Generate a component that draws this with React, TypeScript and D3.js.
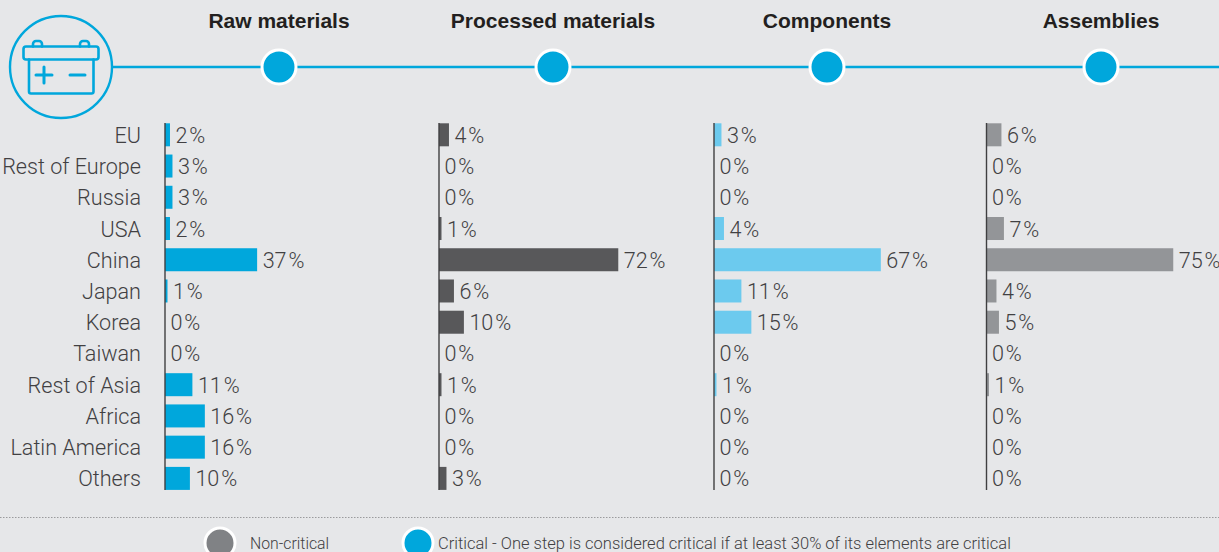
import React from "react";
import * as d3 from "d3";

const regions = ["EU", "Rest of Europe", "Russia", "USA", "China", "Japan", "Korea", "Taiwan", "Rest of Asia", "Africa", "Latin America", "Others"];
const stepNames = ["Raw materials", "Processed materials", "Components", "Assemblies"];
const rawMaterials = [2, 3, 3, 2, 37, 1, 0, 0, 11, 16, 16, 10];
const processedMaterials = [4, 0, 0, 1, 72, 6, 10, 0, 1, 0, 0, 3];
const components = [3, 0, 0, 4, 67, 11, 15, 0, 1, 0, 0, 0];
const assemblies = [6, 0, 0, 7, 75, 4, 5, 0, 1, 0, 0, 0];
const stepValues = [rawMaterials, processedMaterials, components, assemblies];
const barColors = ["#00a7dc", "#58585a", "#6ccaee", "#939598"];
const axisOrigins = [165, 439, 714, 986.5];
const nodeCentres = [279, 553, 827, 1101];

const BG = "#e6e7e9";
const BLUE = "#00a7dc";
const TEXT = "#414042";
const FONT = "Roboto, 'Liberation Sans', Arial, sans-serif";
const BOLD_FONT = "'Liberation Sans', Arial, sans-serif";

const WIDTH = 1219;
const HEIGHT = 552;

const yScale = d3.scalePoint<string>().domain(regions).range([134.8, 478.4]);
const xLength = d3.scaleLinear().domain([0, 100]).range([0, 249]);

function BatteryIcon() {
  return (
    <g fill="none" stroke={BLUE} strokeWidth={2.6} strokeLinejoin="round" strokeLinecap="round">
      <circle cx={61} cy={67} r={51} strokeWidth={2.4} />
      <rect x={23.5} y={46.5} width={75} height={13} rx={2.5} />
      <path d="M29 59.5V91.5a2 2 0 0 0 2 2H91.5a2 2 0 0 0 2-2V59.5" />
      <path d="M33 46.5V44a3 3 0 0 1 3-3h3a3 3 0 0 1 3 3V46.5" />
      <path d="M80 46.5V44a3 3 0 0 1 3-3h3a3 3 0 0 1 3 3V46.5" />
      <path d="M36 75H52M44 67V83M70 75H85" strokeWidth={3} />
    </g>
  );
}

function StepColumn({ index }: { index: number }) {
  const x0 = axisOrigins[index];
  const values = stepValues[index];
  return (
    <g>
      {values.map((v, i) => {
        const y = yScale(regions[i]) as number;
        const w = xLength(v);
        return (
          <g key={regions[i]}>
            {v > 0 && <rect x={x0} y={y - 11.5} width={w} height={23} fill={barColors[index]} />}
            <text x={x0 + w + 5.5} y={y + 8} fontSize={21.6} fill={TEXT} fontFamily={FONT} fontWeight={300}>
              {v}
              <tspan dx={1.8}>%</tspan>
            </text>
          </g>
        );
      })}
      <line x1={x0} x2={x0} y1={123} y2={490} stroke="#3f3f41" strokeWidth={1.4} />
    </g>
  );
}

export default function App() {
  return (
    <svg width={WIDTH} height={HEIGHT} style={{ position: "absolute", left: 0, top: 0, background: BG }}>
      <BatteryIcon />
      <line x1={113} x2={WIDTH} y1={67} y2={67} stroke={BLUE} strokeWidth={2.4} />
      {nodeCentres.map((cx, i) => (
        <g key={stepNames[i]}>
          <circle cx={cx} cy={67} r={17} fill={BLUE} stroke="#ffffff" strokeWidth={3} />
          <text x={cx} y={28} textAnchor="middle" fontSize={21} fontWeight={700} fill="#231f20" fontFamily={BOLD_FONT}>
            {stepNames[i]}
          </text>
        </g>
      ))}

      {regions.map((r) => (
        <text key={r} x={141} y={(yScale(r) as number) + 8} textAnchor="end" fontSize={21.6} fontWeight={300} fill={TEXT} fontFamily={FONT}>
          {r}
        </text>
      ))}
      {stepNames.map((_, i) => (
        <StepColumn key={i} index={i} />
      ))}

      <line x1={0} x2={WIDTH} y1={517.5} y2={517.5} stroke="#9b9b9d" strokeWidth={1} strokeDasharray="1.5 1.5" />
      <circle cx={220} cy={543} r={15} fill="#808285" stroke="#ffffff" strokeWidth={3} />
      <text x={250} y={549} fontSize={15.8} fontWeight={300} fill={TEXT} fontFamily={FONT}>Non-critical</text>
      <circle cx={418} cy={543} r={15} fill={BLUE} stroke="#ffffff" strokeWidth={3} />
      <text x={438} y={549} fontSize={16.5} fontWeight={300} fill={TEXT} fontFamily={FONT}>
        Critical - One step is considered critical if at least 30% of its elements are critical
      </text>
    </svg>
  );
}
